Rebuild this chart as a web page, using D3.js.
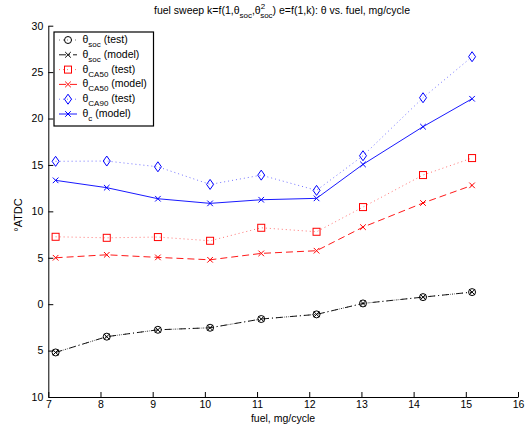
<!DOCTYPE html>
<html><head><meta charset="utf-8">
<script src="https://cdn.jsdelivr.net/npm/d3@7"></script>
<style>body{margin:0;background:#fff}svg{display:block;font-family:"Liberation Sans",Arial,sans-serif}</style>
</head><body>
<svg id="c" width="526" height="424"></svg>
<script>
const fuel = [7.14, 8.12, 9.10, 10.10, 11.08, 12.14, 13.03, 14.18, 15.12];
const socTest = [-5.2, -3.5, -2.76, -2.54, -1.6, -1.1, 0.08, 0.76, 1.3];
const socModel = [-5.2, -3.5, -2.76, -2.54, -1.6, -1.1, 0.08, 0.76, 1.3];
const ca50Test = [7.26, 7.15, 7.23, 6.83, 8.23, 7.8, 10.46, 13.91, 15.74];
const ca50Model = [5.0, 5.32, 5.04, 4.78, 5.47, 5.76, 8.3, 10.9, 12.8];
const ca90Test = [15.39, 15.42, 14.8, 12.9, 13.9, 12.26, 15.99, 22.24, 26.66];
const thetaCModel = [13.34, 12.55, 11.36, 10.86, 11.25, 11.4, 15.06, 19.12, 22.13];
const xTicks = [7, 8, 9, 10, 11, 12, 13, 14, 15, 16];
const yTicks = [30, 25, 20, 15, 10, 5, 0, -5, -10];
const yTickLabels = ["30", "25", "20", "15", "10", "5", "0", "5", "10"];

const svg = d3.select("#c");
const x = d3.scaleLinear().domain([7, 16]).range([48.3, 518]);
const y = d3.scaleLinear().domain([-10, 30]).range([397, 25.7]);

const series = [
  {vals: socTest, color: "#000", dash: "1,3", op: 0.55, marker: "circle"},
  {vals: socModel, color: "#000", dash: "7,3,1,3", op: 0.9, marker: "x"},
  {vals: ca50Test, color: "#ff0000", dash: "1,3", op: 0.55, marker: "square"},
  {vals: ca50Model, color: "#ff0000", dash: "7,4", op: 0.9, marker: "x"},
  {vals: ca90Test, color: "#0000ff", dash: "1,3", op: 0.55, marker: "diamond"},
  {vals: thetaCModel, color: "#0000ff", dash: null, op: 0.9, marker: "x"}
];

function drawMarker(g, type, cx, cy, color) {
  if (type === "circle") {
    g.append("circle").attr("cx", cx).attr("cy", cy).attr("r", 3.5)
      .attr("fill", "none").attr("stroke", color).attr("stroke-width", 1);
  } else if (type === "square") {
    g.append("rect").attr("x", cx - 3.5).attr("y", cy - 3.5).attr("width", 7).attr("height", 7)
      .attr("fill", "none").attr("stroke", color).attr("stroke-width", 1);
  } else if (type === "diamond") {
    g.append("path").attr("d", `M${cx},${cy-5}L${cx+3.5},${cy}L${cx},${cy+5}L${cx-3.5},${cy}Z`)
      .attr("fill", "none").attr("stroke", color).attr("stroke-width", 1);
  } else if (type === "x") {
    const s = 2.8;
    g.append("path").attr("d", `M${cx-s},${cy-s}L${cx+s},${cy+s}M${cx-s},${cy+s}L${cx+s},${cy-s}`)
      .attr("stroke", color).attr("stroke-width", 1);
  }
}

const line = d3.line().x((d, i) => x(fuel[i])).y(d => y(d));
series.forEach(s => {
  svg.append("path").attr("d", line(s.vals)).attr("fill", "none")
    .attr("stroke", s.color).attr("stroke-width", 1).attr("stroke-opacity", s.op)
    .attr("stroke-dasharray", s.dash);
  const g = svg.append("g");
  s.vals.forEach((v, i) => drawMarker(g, s.marker, x(fuel[i]), y(v), s.color));
});

// axes
const xAxis = d3.axisBottom(x).tickValues(xTicks).tickSizeInner(-5).tickSizeOuter(0).tickPadding(4);
const gx = svg.append("g").attr("transform", "translate(0,397)").call(xAxis);
const yAxis = d3.axisLeft(y).tickValues(yTicks).tickSizeInner(-5).tickSizeOuter(0).tickPadding(5)
  .tickFormat((d, i) => yTickLabels[i]);
const gy = svg.append("g").attr("transform", "translate(48.3,0)").call(yAxis);
[gx, gy].forEach(g => {
  g.select(".domain").attr("stroke", "#000").attr("stroke-width", 1);
  g.selectAll(".tick line").attr("stroke", "#000");
  g.selectAll(".tick text").attr("font-size", 10.5).attr("fill", "#000").attr("font-family", "Liberation Sans, Arial, sans-serif");
});

// title
const t = svg.append("text").attr("x", 282).attr("y", 14).attr("text-anchor", "middle")
  .attr("font-size", 10.5).attr("fill", "#000");
t.append("tspan").text("fuel sweep k=f(1,θ");
t.append("tspan").attr("font-size", 8).attr("dy", 4).text("soc");
t.append("tspan").attr("dy", -4).text(",θ");
t.append("tspan").attr("font-size", 8).attr("dy", -5).text("2");
t.append("tspan").attr("font-size", 8).attr("dx", -5).attr("dy", 9).text("soc");
t.append("tspan").attr("dy", -4).text(") e=f(1,k): θ vs. fuel, mg/cycle");

// axis labels
svg.append("text").attr("x", 283).attr("y", 422).attr("text-anchor", "middle")
  .attr("font-size", 10.5).attr("fill", "#000").text("fuel, mg/cycle");
svg.append("text").attr("transform", "translate(22,215) rotate(-90)").attr("text-anchor", "middle")
  .attr("font-size", 11).attr("fill", "#000").text("°ATDC");

// legend
const legendLabels = [
  ["θ", "soc", " (test)"],
  ["θ", "soc", " (model)"],
  ["θ", "CA50", " (test)"],
  ["θ", "CA50", " (model)"],
  ["θ", "CA90", " (test)"],
  ["θ", "c", " (model)"]
];
svg.append("rect").attr("x", 54).attr("y", 32).attr("width", 99.5).attr("height", 94)
  .attr("fill", "#fff").attr("stroke", "#000").attr("stroke-width", 1.2);
legendLabels.forEach((lab, i) => {
  const cy = 40 + i * 14.8;
  const s = series[i];
  svg.append("line").attr("x1", 59).attr("x2", 77).attr("y1", cy).attr("y2", cy)
    .attr("stroke", s.color).attr("stroke-opacity", s.op).attr("stroke-dasharray", s.dash);
  drawMarker(svg.append("g"), s.marker, 68, cy, s.color);
  const tx = svg.append("text").attr("x", 82.5).attr("y", cy + 3).attr("font-size", 10.5).attr("fill", "#000");
  tx.append("tspan").text(lab[0]);
  tx.append("tspan").attr("font-size", 8).attr("dy", 4).text(lab[1]);
  tx.append("tspan").attr("dy", -4).text(lab[2]);
});
</script>
</body></html>
